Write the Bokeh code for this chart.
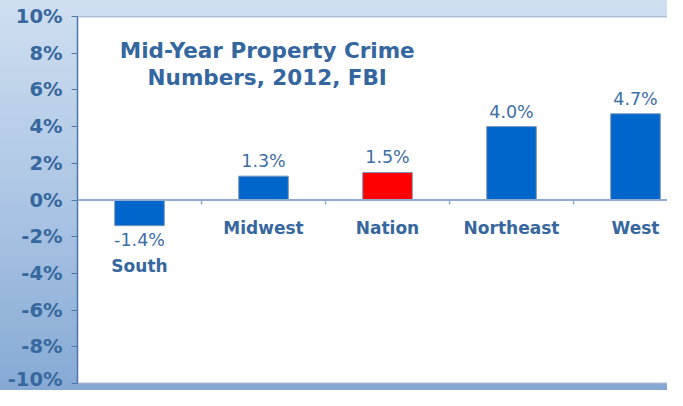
from bokeh.plotting import figure
from bokeh.models import ColumnDataSource, FixedTicker, PrintfTickFormatter, Range1d, Span, Label
from bokeh.core.properties import value
from bokeh.embed import file_html
from bokeh.resources import INLINE

# ---- data ----
regions = ["South", "Midwest", "Nation", "Northeast", "West"]
changes = [-1.4, 1.3, 1.5, 4.0, 4.7]
highlight = "Nation"
y_ticks = [-10, -8, -6, -4, -2, 0, 2, 4, 6, 8, 10]
title_lines = ["Mid-Year Property Crime", "Numbers, 2012, FBI"]

BLUE = "#0066CC"
RED = "#FF0000"
TXT = "#36679E"
FONT = "DejaVu Sans"

xs = list(range(len(regions)))
colors = [RED if r == highlight else BLUE for r in regions]
val_text = [f"{v:.1f}%" for v in changes]
val_off = [-15 if v >= 0 else 14 for v in changes]
name_y = [min(v, 0) for v in changes]
name_off = [28 if v >= 0 else 40 for v in changes]

src = ColumnDataSource(dict(x=xs, top=changes, color=colors, vtext=val_text,
                            voff=val_off, name=regions, ny=name_y, noff=name_off))

p = figure(width=667, height=390, output_backend="svg", toolbar_location=None,
           x_range=Range1d(-0.5, 4.258), y_range=Range1d(y_ticks[0], y_ticks[-1]),
           x_axis_location=None, min_border_left=77, min_border_right=0,
           min_border_top=16, min_border_bottom=7)
p.styles = {"background": "linear-gradient(to bottom, #d0dff0 0%, #a9c4e3 55%, #86a9d4 100%)"}
p.border_fill_color = None
p.background_fill_color = "white"
p.outline_line_color = None
p.grid.visible = False

# frame edges top / bottom
p.add_layout(Span(location=y_ticks[-1], dimension="width", line_color="#6d8db6", line_width=1.5))
p.add_layout(Span(location=y_ticks[0], dimension="width", line_color="#6d8db6", line_width=1.5))

# y axis
ax = p.yaxis[0]
ax.ticker = FixedTicker(ticks=y_ticks)
ax.formatter = PrintfTickFormatter(format="%d%%")
ax.axis_line_color = "#4c76aa"
ax.axis_line_width = 1.5
ax.major_tick_line_color = "#4c76aa"
ax.major_tick_out = 6
ax.major_tick_in = 0
ax.minor_tick_line_color = None
ax.major_label_text_font = FONT
ax.major_label_text_font_style = "bold"
ax.major_label_text_font_size = "19.5px"
ax.major_label_text_color = TXT
ax.major_label_standoff = 9

# bars
p.vbar(x="x", top="top", bottom=0, width=0.4, source=src, fill_color="color",
       line_color="#7d97ba", line_width=1)

# zero line with category separator ticks
p.add_layout(Span(location=0, dimension="width", line_color="#8eaacd", line_width=2))
seps = [i + 0.5 for i in xs[:-1]]
p.segment(x0=seps, x1=seps, y0=[0] * len(seps), y1=[-0.25] * len(seps),
          line_color="#8eaacd", line_width=1.5)

# value labels
p.text(x="x", y="top", text="vtext", y_offset="voff", source=src,
       text_align="center", text_baseline="middle", text_font=value(FONT),
       text_font_size="17.5px", text_color="#3d6ea6")
# category labels
p.text(x="x", y="ny", text="name", y_offset="noff", source=src,
       text_align="center", text_baseline="middle", text_font=value(FONT),
       text_font_style="bold", text_font_size="17px", text_color=TXT)

# title
for txt, yy in zip(title_lines, [8.15, 6.65]):
    p.add_layout(Label(x=1.03, y=yy, text=txt, text_align="center", text_baseline="middle",
                       text_font=FONT, text_font_style="bold", text_font_size="21.5px",
                       text_color="#3466a0"))

open("out.html", "w").write(file_html(p, INLINE))
